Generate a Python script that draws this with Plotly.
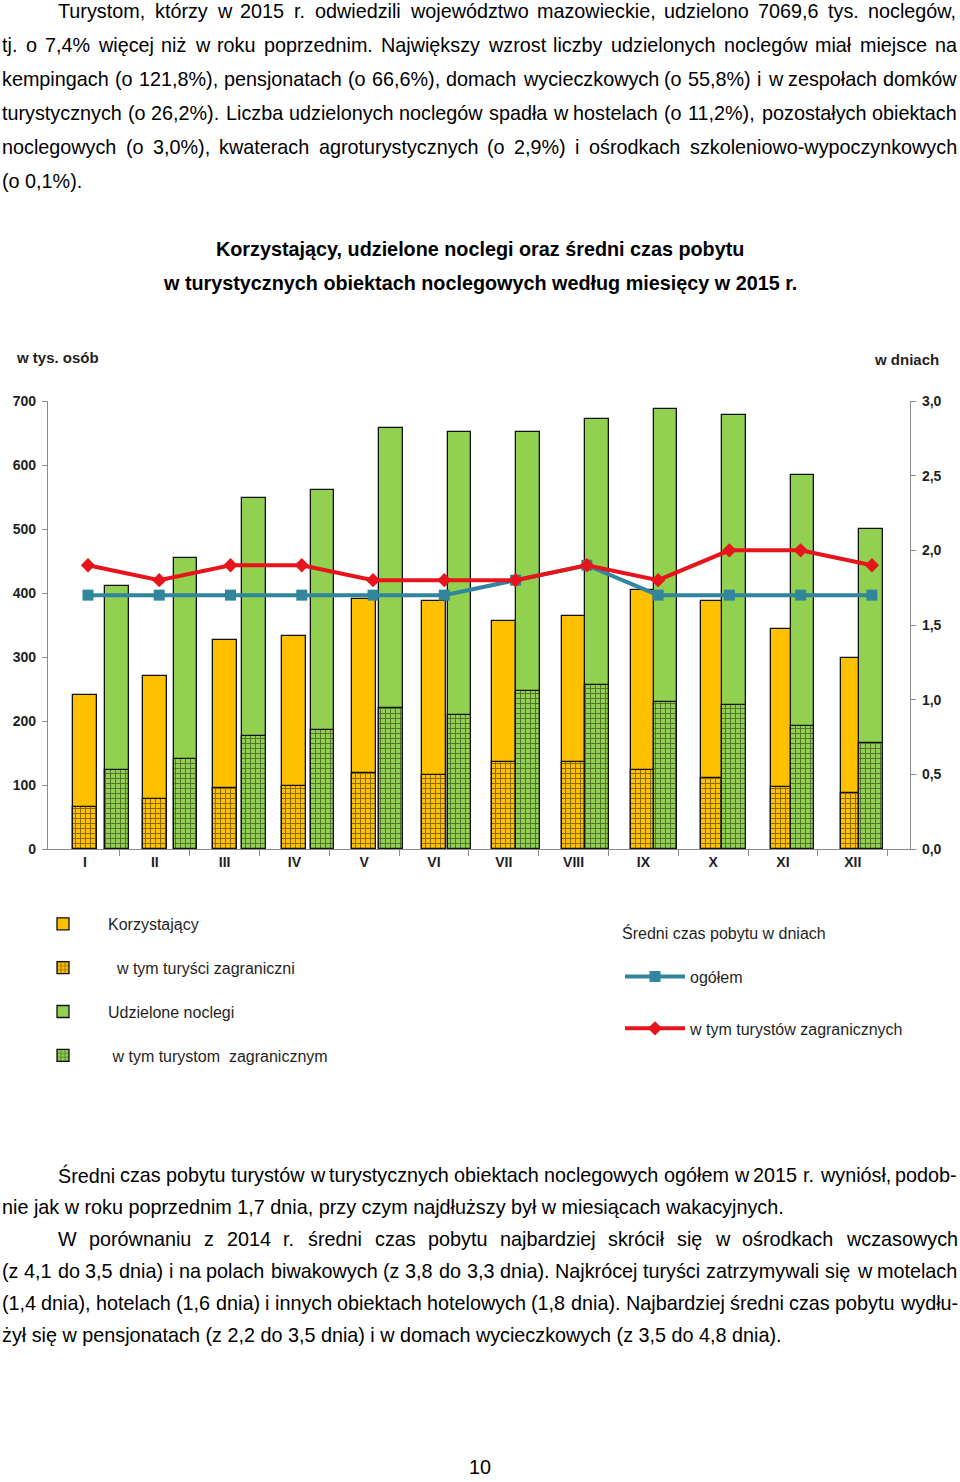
import plotly.graph_objects as go

# ---------------- data ----------------
months = ["I", "II", "III", "IV", "V", "VI", "VII", "VIII", "IX", "X", "XI", "XII"]
korzystajacy = [240, 271, 327, 333, 391, 388, 357, 364, 405, 388, 343, 298]
korzystajacy_zagr = [66, 78, 95, 98, 118, 115, 136, 136, 124, 111, 97, 87]
noclegi = [411, 455, 549, 561, 658, 652, 652, 672, 687, 678, 585, 500]
noclegi_zagr = [123, 140, 177, 186, 220, 210, 247, 257, 229, 225, 192, 166]
czas_ogolem = [1.7, 1.7, 1.7, 1.7, 1.7, 1.7, 1.8, 1.9, 1.7, 1.7, 1.7, 1.7]
czas_zagr = [1.9, 1.8, 1.9, 1.9, 1.8, 1.8, 1.8, 1.9, 1.8, 2.0, 2.0, 1.9]
left_ticks = [0, 100, 200, 300, 400, 500, 600, 700]
right_ticks = [0, 0.5, 1.0, 1.5, 2.0, 2.5, 3.0]
right_ticklabels = ["0,0", "0,5", "1,0", "1,5", "2,0", "2,5", "3,0"]

# ---------------- page layout helpers ----------------
FIG_W, FIG_H = 960, 1482
FONT = "Liberation Sans, Arial, sans-serif"
TXT = 19.8


def px(x):
    return x / FIG_W


def py(y):
    return 1 - y / FIG_H


# Arial / Liberation Sans advance widths (1/1000 em)
W = {" ": 278, "!": 278, "%": 889, "(": 333, ")": 333, ",": 278, "-": 333, ".": 278,
     "A": 667, "B": 667, "C": 722, "D": 722, "E": 667, "F": 611, "G": 778, "H": 722,
     "I": 278, "J": 500, "K": 667, "L": 556, "M": 833, "N": 722, "O": 778, "P": 667,
     "Q": 778, "R": 722, "S": 667, "T": 611, "U": 722, "V": 667, "W": 944, "X": 667,
     "Y": 667, "Z": 611, "a": 556, "b": 556, "c": 500, "d": 556, "e": 556, "f": 278,
     "g": 556, "h": 556, "i": 222, "j": 222, "k": 500, "l": 222, "m": 833, "n": 556,
     "o": 556, "p": 556, "q": 556, "r": 333, "s": 500, "t": 278, "u": 556, "v": 500,
     "w": 722, "x": 500, "y": 500, "z": 500, "ą": 556, "ć": 500, "ę": 556, "ł": 222,
     "ń": 556, "ó": 556, "ś": 500, "ź": 500, "ż": 500, "Ś": 667, "Ż": 611, "Ł": 556}
for d in "0123456789":
    W[d] = 556


def tw(s, fs):
    return sum(W.get(c, 556) for c in s) * fs / 1000.0


annotations = []


def text_line(text, yc, x0, x1=957, justify=True, size=TXT):
    words = text.split(" ")
    if not justify or len(words) < 2:
        annotations.append(dict(text=text, x=px(x0), y=py(yc), xref="paper", yref="paper",
                                xanchor="left", yanchor="middle", showarrow=False,
                                borderpad=0, borderwidth=0,
                                font=dict(family=FONT, size=size, color="#000")))
        return
    total = sum(tw(w, size) for w in words)
    gap = (x1 - x0 - total) / (len(words) - 1)
    x = x0
    for w in words:
        annotations.append(dict(text=w, x=px(x), y=py(yc), xref="paper", yref="paper",
                                xanchor="left", yanchor="middle", showarrow=False,
                                borderpad=0, borderwidth=0,
                                font=dict(family=FONT, size=size, color="#000")))
        x += tw(w, size) + gap


top_par = [
    ("Turystom, którzy w 2015 r. odwiedzili województwo mazowieckie, udzielono 7069,6 tys. noclegów,", 58, True),
    ("tj. o 7,4% więcej niż w roku poprzednim. Największy wzrost liczby udzielonych noclegów miał miejsce na", 2, True),
    ("kempingach (o 121,8%), pensjonatach (o 66,6%), domach wycieczkowych (o 55,8%) i w zespołach domków", 2, True),
    ("turystycznych (o 26,2%). Liczba udzielonych noclegów spadła w hostelach (o 11,2%), pozostałych obiektach", 2, True),
    ("noclegowych (o 3,0%), kwaterach agroturystycznych (o 2,9%) i ośrodkach szkoleniowo-wypoczynkowych", 2, True),
    ("(o 0,1%).", 2, False),
]
for i, (t, x0, j) in enumerate(top_par):
    text_line(t, 11 + 34 * i, x0, justify=j)

bottom_par = [
    ("Średni czas pobytu turystów w turystycznych obiektach noclegowych ogółem w 2015 r. wyniósł, podob-", 58, True),
    ("nie jak w roku poprzednim 1,7 dnia, przy czym najdłuższy był w miesiącach wakacyjnych.", 2, False),
    ("W porównaniu z 2014 r. średni czas pobytu najbardziej skrócił się w ośrodkach wczasowych", 58, True),
    ("(z 4,1 do 3,5 dnia) i na polach biwakowych (z 3,8 do 3,3 dnia). Najkrócej turyści zatrzymywali się w motelach", 2, True),
    ("(1,4 dnia), hotelach (1,6 dnia) i innych obiektach hotelowych (1,8 dnia). Najbardziej średni czas pobytu wydłu-", 2, True),
    ("żył się w pensjonatach (z 2,2 do 3,5 dnia) i w domach wycieczkowych (z 3,5 do 4,8 dnia).", 2, False),
]
for i, (t, x0, j) in enumerate(bottom_par):
    text_line(t, 1175 + 32 * i, x0, justify=j)

# chart title
for t, yc in [("Korzystający, udzielone noclegi oraz średni czas pobytu", 249),
              ("w turystycznych obiektach noclegowych według miesięcy w 2015 r.", 283)]:
    annotations.append(dict(text="<b>%s</b>" % t, x=px(480), y=py(yc), xref="paper", yref="paper",
                            xanchor="center", yanchor="middle", showarrow=False,
                            font=dict(family=FONT, size=TXT, color="#000")))

# page number
annotations.append(dict(text="10", x=px(480), y=py(1467), xref="paper", yref="paper",
                        xanchor="center", yanchor="middle", showarrow=False,
                        borderpad=0, borderwidth=0,
                        font=dict(family=FONT, size=TXT, color="#000")))

# axis unit labels
CH = "#1f1f1f"
annotations.append(dict(text="<b>w tys. osób</b>", x=px(14), y=py(357), xref="paper", yref="paper",
                        xanchor="left", yanchor="middle", showarrow=False,
                        font=dict(family=FONT, size=15, color=CH)))
annotations.append(dict(text="<b>w dniach</b>", x=px(941), y=py(360), xref="paper", yref="paper",
                        xanchor="right", yanchor="middle", showarrow=False,
                        font=dict(family=FONT, size=15, color=CH)))

# ---------------- chart ----------------
idx = list(range(len(months)))
orange_x = [i for i in idx]
green_x = [0.458 + 0.982 * i for i in idx]
line_x = [0.043 + 1.021 * i for i in idx]
boundaries = [i + 0.5 for i in idx]

ORANGE = "#FFC000"
GREEN = "#92D050"
BLUE = "#31859C"
RED = "#E8141B"
OUT = dict(color="#111", width=1.3)

fig = go.Figure()
fig.add_trace(go.Bar(x=orange_x, y=korzystajacy, width=0.345, name="Korzystający",
                     marker=dict(color=ORANGE, line=OUT), legend="legend", legendgroup="g1"))
fig.add_trace(go.Bar(x=orange_x, y=korzystajacy_zagr, width=0.345,
                     name="\u00a0\u00a0w tym turyści zagraniczni",
                     marker=dict(color=ORANGE, line=OUT,
                                 pattern=dict(shape="+", fgcolor="#111", bgcolor=ORANGE,
                                              size=5, solidity=0.35)),
                     legend="legend", legendgroup="g2"))
fig.add_trace(go.Bar(x=green_x, y=noclegi, width=0.337, name="Udzielone noclegi",
                     marker=dict(color=GREEN, line=OUT), legend="legend", legendgroup="g3"))
fig.add_trace(go.Bar(x=green_x, y=noclegi_zagr, width=0.337,
                     name="\u00a0w tym turystom\u00a0 zagranicznym",
                     marker=dict(color=GREEN, line=OUT,
                                 pattern=dict(shape="+", fgcolor="#111", bgcolor=GREEN,
                                              size=5, solidity=0.35)),
                     legend="legend", legendgroup="g4"))
fig.add_trace(go.Scatter(x=line_x, y=czas_ogolem, yaxis="y2", mode="lines+markers", name="ogółem",
                         line=dict(color=BLUE, width=4),
                         marker=dict(symbol="square", size=11, color=BLUE),
                         legend="legend2", legendgroup="l1"))
fig.add_trace(go.Scatter(x=line_x, y=czas_zagr, yaxis="y2", mode="lines+markers",
                         name="w tym turystów zagranicznych",
                         line=dict(color=RED, width=4),
                         marker=dict(symbol="diamond", size=11, color=RED),
                         legend="legend2", legendgroup="l2"))

AX = "#8c8c8c"
tickfont = dict(family=FONT, size=14, color=CH, weight="bold")
fig.update_layout(
    width=FIG_W, height=FIG_H, autosize=False,
    margin=dict(l=0, r=0, t=0, b=0, autoexpand=False),
    paper_bgcolor="white", plot_bgcolor="white",
    barmode="overlay", bargap=0,
    showlegend=True,
    annotations=annotations,
    xaxis=dict(domain=[px(48), px(910)], range=[-0.53, 11.82], automargin=False,
               tickmode="array", tickvals=idx, ticktext=months, ticks="",
               tickfont=tickfont, showline=True, linecolor=AX, linewidth=1.3,
               showgrid=False, zeroline=False, fixedrange=True,
               minor=dict(tickmode="array", tickvals=boundaries, ticks="outside",
                          ticklen=6, tickcolor=AX, tickwidth=1.3, showgrid=False)),
    yaxis=dict(domain=[py(849), py(401)], range=[0, 700], automargin=False,
               tickmode="array", tickvals=left_ticks, ticks="outside", ticklen=5,
               tickcolor=AX, tickwidth=1.3, tickfont=tickfont, ticklabelstandoff=3,
               showline=True, linecolor=AX, linewidth=1.3, showgrid=False, zeroline=False),
    yaxis2=dict(overlaying="y", side="right", anchor="x", range=[0, 3.0], automargin=False,
                tickmode="array", tickvals=right_ticks, ticktext=right_ticklabels,
                ticks="outside", ticklen=5, tickcolor=AX, tickwidth=1.3, tickfont=tickfont,
                ticklabelstandoff=3,
                showline=True, linecolor=AX, linewidth=1.3, showgrid=False, zeroline=False),
    legend=dict(x=px(18), y=py(907), xanchor="left", yanchor="top",
                bgcolor="rgba(0,0,0,0)", traceorder="grouped", tracegroupgap=20,
                font=dict(family=FONT, size=16, color=CH), itemwidth=80),
    legend2=dict(x=px(620), y=py(918), xanchor="left", yanchor="top",
                 bgcolor="rgba(0,0,0,0)", traceorder="grouped", tracegroupgap=28,
                 title=dict(text="Średni czas pobytu w dniach<br>\u00a0", side="top",
                            font=dict(family=FONT, size=16, color=CH)),
                 font=dict(family=FONT, size=16, color=CH), itemwidth=60),
)

fig.write_html("out.html", config={"displayModeBar": False},
               post_script="document.body.style.margin='0';document.body.style.overflow='hidden';")
